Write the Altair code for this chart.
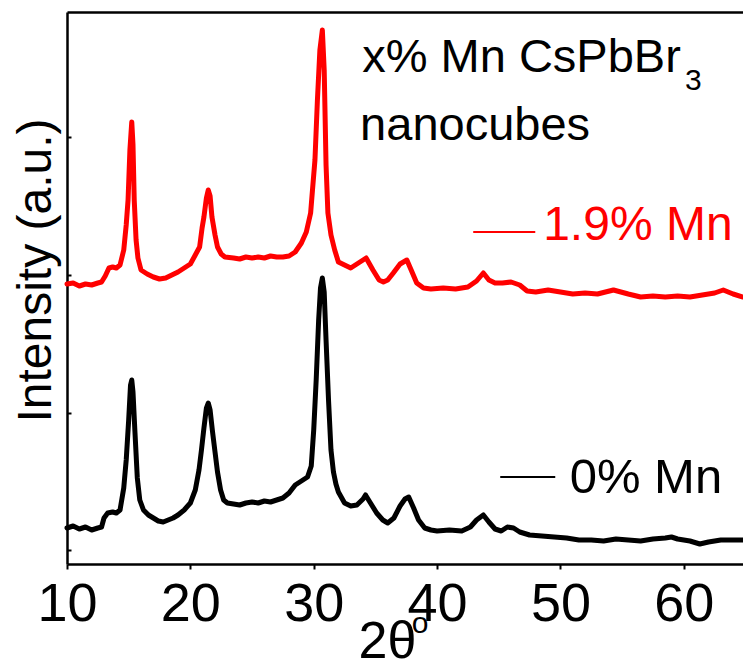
import altair as alt
import pandas as pd

# 2-theta positions (degrees) and intensities (counts) for both samples
two_theta_0 = [10.0, 10.5, 11.0, 11.5, 12.0, 12.5, 12.8, 13.0, 13.3, 13.7, 14.0, 14.3, 14.6, 14.8,
               15.0, 15.15, 15.25, 15.35, 15.5, 15.7, 15.9, 16.2, 16.6, 17.0, 17.4, 17.8, 18.2,
               18.6, 19.0, 19.5, 20.0, 20.4, 20.7, 20.9, 21.1, 21.3, 21.45, 21.6, 21.8, 22.0,
               22.2, 22.45, 22.7, 23.0, 23.5, 24.0, 24.5, 25.0, 25.5, 26.0, 26.5, 27.0, 27.5,
               28.0, 28.5, 29.0, 29.5, 29.8, 30.0, 30.2, 30.4, 30.55, 30.7, 30.85, 31.0, 31.2,
               31.4, 31.6, 31.8, 32.0, 32.5, 33.0, 33.5, 34.0, 34.2, 34.6, 35.1, 35.6, 36.0,
               36.5, 37.0, 37.4, 37.7, 38.1, 38.5, 39.0, 39.5, 40.0, 41.0, 42.0, 42.7, 43.2,
               43.75, 44.2, 44.7, 45.2, 45.7, 46.2, 46.7, 47.5, 48.5, 49.5, 50.5, 51.5, 52.5,
               53.5, 54.5, 55.5, 56.5, 57.5, 58.5, 59.0, 59.5, 60.5, 61.3, 62.0, 63.0, 64.0, 64.8]
counts_0 = [360, 380, 350, 370, 340, 360, 370, 460, 510, 520, 510, 540, 760, 1040,
            1440, 1790, 1840, 1720, 1340, 860, 640, 540, 490, 460, 430, 420, 440,
            460, 490, 540, 610, 740, 940, 1140, 1360, 1560, 1610, 1540, 1320, 1120,
            920, 740, 640, 610, 600, 590, 610, 620, 610, 630, 620, 640, 660,
            710, 790, 830, 870, 980, 1340, 1840, 2440, 2760, 2860, 2720, 2240, 1640,
            1140, 920, 800, 720, 610, 580, 590, 650, 690, 610, 510, 440, 410,
            460, 580, 650, 670, 560, 440, 360, 340, 330, 340, 330, 370, 440,
            490, 420, 350, 330, 370, 360, 320, 290, 280, 270, 260, 240, 240,
            230, 250, 240, 230, 250, 260, 270, 250, 230, 200, 220, 240, 240, 240]

two_theta_19 = [10.0, 10.5, 11.0, 11.5, 12.0, 12.5, 12.8, 13.1, 13.4, 13.7, 14.0, 14.3, 14.6, 14.8,
                14.95, 15.1, 15.25, 15.35, 15.45, 15.6, 15.75, 16.0, 16.5, 17.0, 17.5, 18.0,
                18.5, 19.0, 19.5, 20.0, 20.4, 20.75, 20.95, 21.1, 21.3, 21.45, 21.6, 21.75,
                22.0, 22.2, 22.5, 22.8, 23.5, 24.0, 24.5, 25.0, 25.5, 26.0, 26.5, 27.0, 27.5,
                28.0, 28.5, 29.0, 29.4, 29.75, 29.9, 30.1, 30.3, 30.5, 30.7, 30.85, 31.0, 31.15,
                31.4, 31.7, 32.0, 32.5, 33.0, 33.5, 34.0, 34.25, 34.8, 35.3, 35.65, 36.0, 36.45,
                37.0, 37.55, 37.9, 38.35, 38.9, 39.5, 40.5, 41.5, 42.5, 43.2, 43.75, 44.2, 44.7,
                45.3, 46.0, 46.7, 47.3, 48.0, 49.0, 50.0, 51.0, 52.0, 53.0, 54.3, 55.5, 56.5,
                57.5, 58.5, 59.5, 60.5, 61.5, 62.5, 63.2, 64.0, 64.8]
counts_19 = [2800, 2810, 2780, 2800, 2790, 2810, 2820, 2880, 2960, 2970, 2960, 2990, 3140, 3390,
             3640, 4140, 4420, 4190, 3640, 3240, 3060, 2940, 2900, 2870, 2850, 2860,
             2890, 2920, 2960, 3000, 3090, 3170, 3360, 3470, 3660, 3740, 3680, 3470,
             3290, 3170, 3100, 3070, 3060, 3050, 3070, 3060, 3070, 3060, 3080, 3070, 3070,
             3080, 3120, 3210, 3320, 3510, 3740, 4040, 4640, 5140, 5340, 4940, 3990, 3510,
             3290, 3140, 3020, 2990, 2960, 3000, 3040, 3060, 2940, 2840, 2820, 2840, 2910,
             3000, 3040, 2940, 2810, 2760, 2750, 2760, 2750, 2770, 2830, 2910, 2840, 2810,
             2810, 2820, 2790, 2730, 2720, 2740, 2720, 2700, 2710, 2700, 2740, 2700, 2670,
             2680, 2670, 2680, 2670, 2690, 2710, 2740, 2700, 2670]

series_names = ["0% Mn", "1.9% Mn"]
series_colors = ["#000000", "#ff0000"]

x_ticks = [10, 20, 30, 40, 50, 60]
y_ticks = [140, 1515, 2890, 4265]
x_domain = [10, 64.8]
y_domain = [0, 5520]

# annotation texts (left-aligned, anchored at their baseline); the last one is
# the superscript "o" of the 2-theta axis title
note_text = ["x% Mn CsPbBr", "3", "nanocubes", "1.9% Mn", "0% Mn", "o"]
note_x = [33.93, 60.1, 33.76, 48.6, 50.75, 37.95]
note_y = [4920, 4740, 4240, 3240, 710, -690]
note_size = [47, 30, 47, 48, 49, 30]
note_color = ["#000000", "#000000", "#000000", "#ff0000", "#000000", "#000000"]

# legend line samples
key_x = [42.93, 45.12]
key_x2 = [47.96, 49.58]
key_y = [3320, 870]
key_color = ["#ff0000", "#000000"]

FONT = "Liberation Sans"

df = pd.concat([
    pd.DataFrame({"theta": two_theta_0, "counts": counts_0, "sample": series_names[0]}),
    pd.DataFrame({"theta": two_theta_19, "counts": counts_19, "sample": series_names[1]}),
])
notes = pd.DataFrame({"x": note_x, "y": note_y, "text": note_text,
                      "size": note_size, "color": note_color})
keys = pd.DataFrame({"x": key_x, "x2": key_x2, "y": key_y, "color": key_color})

xs = alt.Scale(domain=x_domain, nice=False, zero=False)
ys = alt.Scale(domain=y_domain, nice=False, zero=False)
cs = alt.Scale(domain=series_names, range=series_colors)

lines = alt.Chart(df).mark_line(strokeWidth=5, strokeJoin="round", strokeCap="round").encode(
    x=alt.X("theta:Q", scale=xs, axis=alt.Axis(
        values=x_ticks, title="2θ", grid=False, domainWidth=2.5, domainColor="black",
        tickWidth=2, tickSize=5, tickColor="black", labelFontSize=54, labelFont=FONT,
        labelColor="black", labelBaseline="alphabetic", labelPadding=51, labelFlush=False,
        titleFontSize=52, titleFont=FONT, titleFontWeight="normal", titleColor="black",
        titleBaseline="alphabetic", titleX=320, titleY=93)),
    y=alt.Y("counts:Q", scale=ys, axis=alt.Axis(
        title="Intensity (a.u.)", grid=False, ticks=False, labels=False, domainWidth=2.5,
        domainColor="black", titleFontSize=48, titleFont=FONT, titleFontWeight="normal",
        titleColor="black", titleAngle=270, titleBaseline="alphabetic", titleAlign="center",
        titleX=-17, titleY=258)),
    color=alt.Color("sample:N", scale=cs, legend=None),
    detail="sample:N",
)

frame = alt.Chart(df).mark_line(opacity=0).encode(
    x=alt.X("theta:Q", scale=xs, axis=alt.Axis(
        orient="top", labels=False, ticks=False, title=None, grid=False,
        domainWidth=2.5, domainColor="black")),
    y=alt.Y("counts:Q", scale=ys, axis=alt.Axis(
        orient="right", offset=-676, values=y_ticks, labels=False, domain=False,
        tickSize=4, tickWidth=2, tickColor="black", title=None, grid=False)),
    detail="sample:N",
)

text_layer = alt.Chart(notes).mark_text(align="left", baseline="alphabetic", font=FONT).encode(
    x=alt.X("x:Q", scale=xs, axis=None),
    y=alt.Y("y:Q", scale=ys, axis=None),
    text="text:N",
    size=alt.Size("size:Q", scale=None, legend=None),
    color=alt.Color("color:N", scale=None, legend=None),
)

key_layer = alt.Chart(keys).mark_rule(strokeWidth=2).encode(
    x=alt.X("x:Q", scale=xs, axis=None),
    x2="x2:Q",
    y=alt.Y("y:Q", scale=ys, axis=None),
    color=alt.Color("color:N", scale=None, legend=None),
)

chart = alt.layer(lines, frame, key_layer, text_layer).resolve_axis(
    x="independent", y="independent"
).resolve_scale(color="independent").properties(
    width=676, height=552,
    padding={"left": 67, "top": 12, "right": 0, "bottom": 98},
    autosize=alt.AutoSizeParams(type="none"),
    background="white",
).configure_view(stroke=None)

chart.save("out.html", embed_options={"renderer": "svg", "actions": False})
